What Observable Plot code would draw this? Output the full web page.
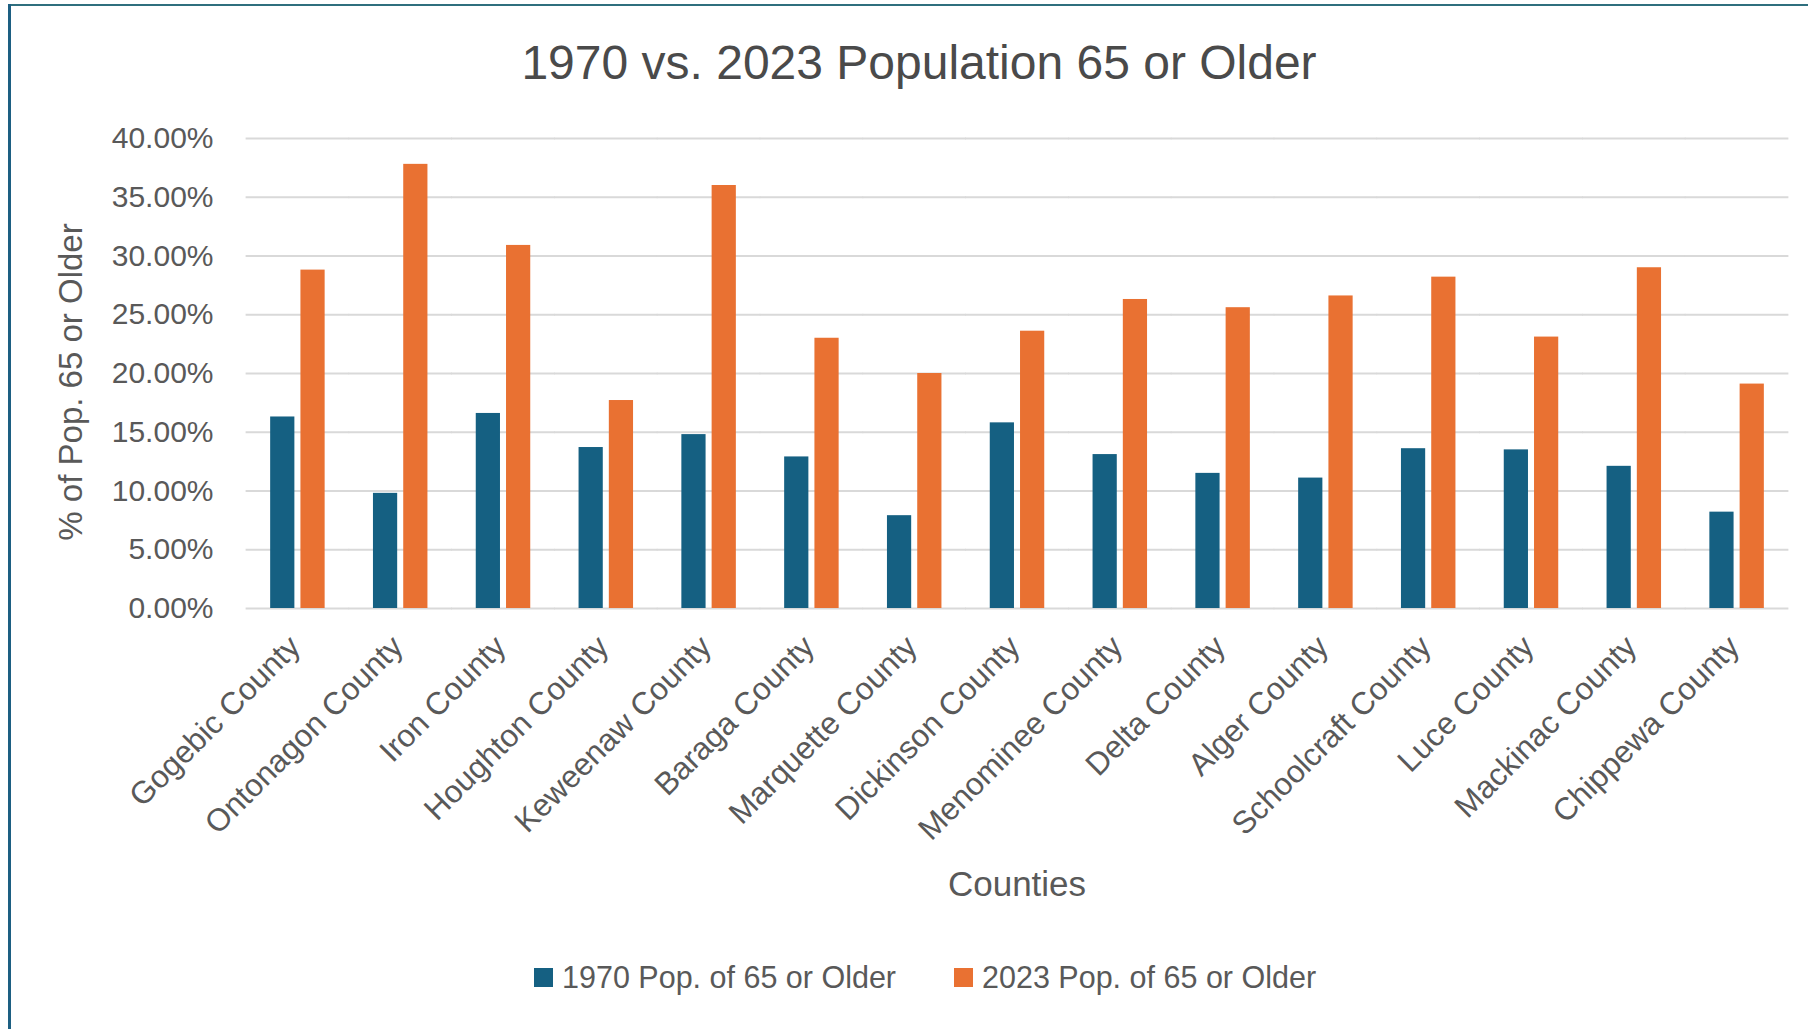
<!DOCTYPE html>
<html>
<head>
<meta charset="utf-8">
<script src="https://cdn.jsdelivr.net/npm/d3@7"></script>
<script src="https://cdn.jsdelivr.net/npm/@observablehq/plot@0.6"></script>
<style>
  html, body { margin: 0; padding: 0; background: #fff; }
  #page { position: relative; width: 1808px; height: 1029px; overflow: hidden;
          font-family: "Liberation Sans", Arial, sans-serif; color: #595959; }
  #topRule { position: absolute; left: 8px; top: 4px; right: 0; height: 2px; background: #2f6f7e; }
  #leftRule { position: absolute; left: 8px; top: 4px; bottom: 0; width: 3px; background: #1d5f82; }
  #title { position: absolute; left: 919px; top: 38px; transform: translateX(-50%);
           font-size: 48px; line-height: 50px; white-space: nowrap; color: #4a4a4a; }
  #chart { position: absolute; left: 0; top: 0; }
  #yTitle { position: absolute; left: 71px; top: 382px; transform: translate(-50%, -50%) rotate(-90deg);
            font-size: 33px; line-height: 36px; white-space: nowrap; }
  #xTitle { position: absolute; left: 1017px; top: 884px; transform: translate(-50%, -50%);
            font-size: 35px; line-height: 38px; white-space: nowrap; }
  #legend { position: absolute; left: 534px; top: 977px; transform: translateY(-50%);
            display: flex; align-items: center; font-size: 30.5px; line-height: 34px; white-space: nowrap; }
  .item { display: flex; align-items: center; margin-right: 58px; }
  .swatch { width: 19px; height: 19px; margin-right: 9px; }
</style>
</head>
<body>
<div id="page">
  <div id="topRule"></div>
  <div id="leftRule"></div>
  <div id="chart"></div>
  <div id="title"></div>
  <div id="yTitle"></div>
  <div id="xTitle"></div>
  <div id="legend"></div>
</div>
<script>
// Share of population aged 65 or older, Upper Peninsula counties (percent)
const counties = [
  "Gogebic County", "Ontonagon County", "Iron County", "Houghton County",
  "Keweenaw County", "Baraga County", "Marquette County", "Dickinson County",
  "Menominee County", "Delta County", "Alger County", "Schoolcraft County",
  "Luce County", "Mackinac County", "Chippewa County"
];
const pct1970 = [16.3, 9.8, 16.6, 13.7, 14.8, 12.9, 7.9, 15.8, 13.1, 11.5, 11.1, 13.6, 13.5, 12.1, 8.2];
const pct2023 = [28.8, 37.8, 30.9, 17.7, 36.0, 23.0, 20.0, 23.6, 26.3, 25.6, 26.6, 28.2, 23.1, 29.0, 19.1];
const seriesNames = ["1970 Pop. of 65 or Older", "2023 Pop. of 65 or Older"];
const seriesColors = ["#156082", "#E97132"];
const yTicks = [0, 0.05, 0.10, 0.15, 0.20, 0.25, 0.30, 0.35, 0.40];

const chartTitle = "1970 vs. 2023 Population 65 or Older";
const yLabel = "% of Pop. 65 or Older";
const xLabel = "Counties";

// long-format table for the grouped bars
const rows = counties.flatMap((county, i) => [
  {county, series: seriesNames[0], value: pct1970[i] / 100},
  {county, series: seriesNames[1], value: pct2023[i] / 100}
]);

const pctFormat = d => (d * 100).toFixed(2) + "%";

// county bands: inner gap 0.47 of a step, half of that at each end
const fxPadInner = 0.47, fxPadOuter = 0.235;
const plotLeft = 246, plotRight = 20, plotWidth = 1808;
const step = (plotWidth - plotLeft - plotRight) / (counties.length - fxPadInner + 2 * fxPadOuter);
const outerGap = fxPadOuter * step;
const gridReach = -(outerGap + 0.4); // gridlines bridge the gaps between county groups

const chart = Plot.plot({
  width: plotWidth,
  height: 860,
  marginTop: 138,
  marginBottom: 252,
  marginLeft: plotLeft,
  marginRight: plotRight,
  style: {fontFamily: "'Liberation Sans', Arial, sans-serif", fontSize: "30px", color: "#595959", background: "transparent", overflow: "visible"},
  fx: {domain: counties, paddingInner: fxPadInner, paddingOuter: fxPadOuter, round: false, label: null},
  x: {domain: seriesNames, paddingInner: 0.2, paddingOuter: 0, round: false, axis: null},
  y: {domain: [0, 0.4], label: null},
  color: {domain: seriesNames, range: seriesColors},
  marks: [
    Plot.ruleY(yTicks, {stroke: "#d9d9d9", strokeWidth: 2, insetLeft: gridReach, insetRight: gridReach}),
    Plot.barY(rows, {fx: "county", x: "series", y: "value", fill: "series"}),
    Plot.axisY({ticks: yTicks, tickFormat: pctFormat, tickSize: 0, tickPadding: 33 + outerGap, label: null, fill: "#595959"}),
    Plot.axisFx({anchor: "bottom", tickRotate: -45, tickSize: 0, tickPadding: 33, dx: -3, fontSize: 31.5, label: null, fill: "#595959"})
  ]
});
document.getElementById("chart").appendChild(chart);

document.getElementById("title").textContent = chartTitle;
document.getElementById("yTitle").textContent = yLabel;
document.getElementById("xTitle").textContent = xLabel;

const legend = document.getElementById("legend");
seriesNames.forEach((name, i) => {
  const item = document.createElement("div");
  item.className = "item";
  const sw = document.createElement("div");
  sw.className = "swatch";
  sw.style.background = seriesColors[i];
  const label = document.createElement("span");
  label.textContent = name;
  item.appendChild(sw);
  item.appendChild(label);
  legend.appendChild(item);
});
</script>
</body>
</html>
